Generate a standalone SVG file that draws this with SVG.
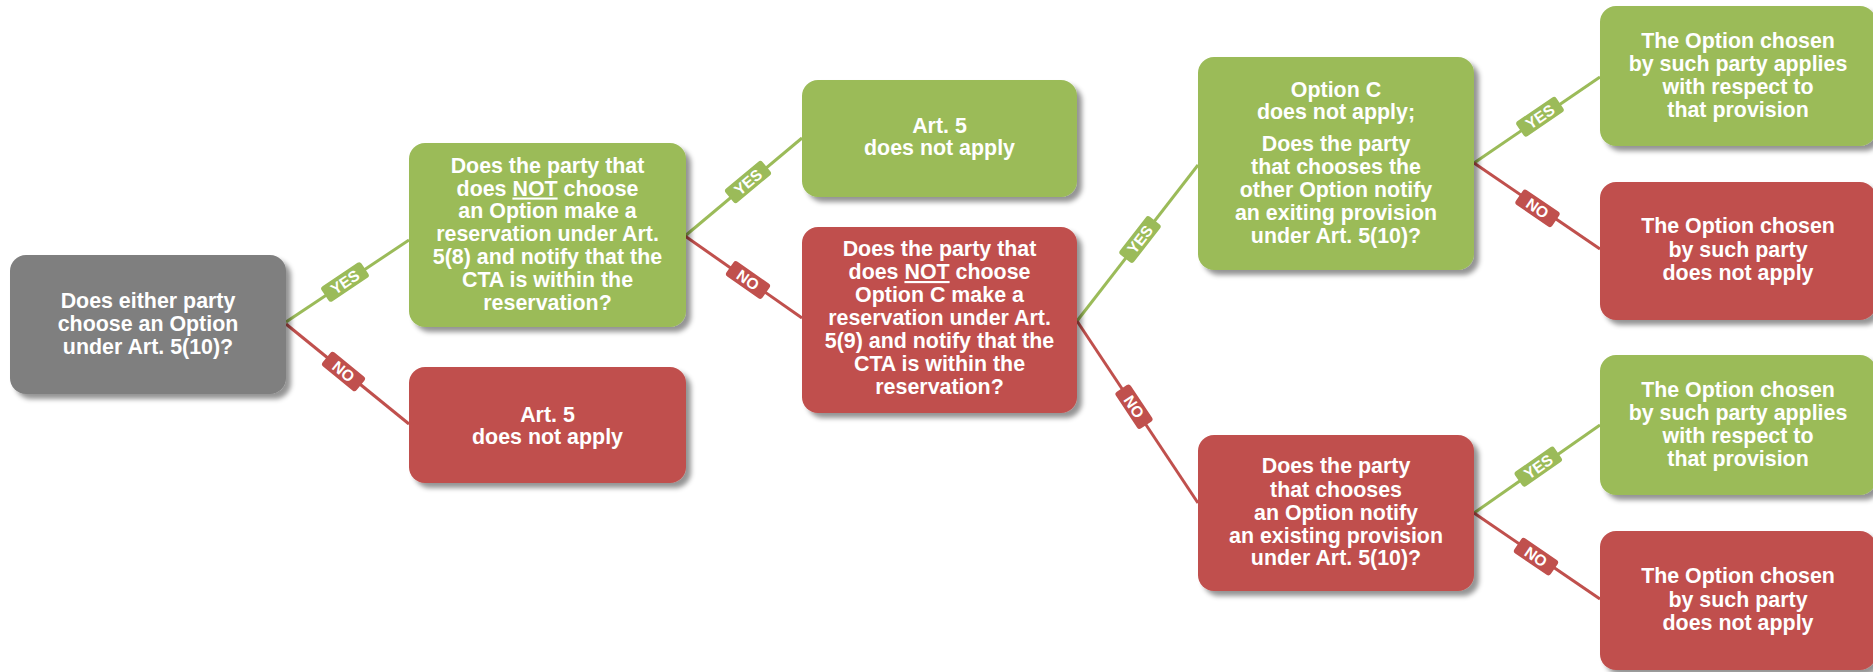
<svg xmlns="http://www.w3.org/2000/svg" width="1873" height="672" viewBox="0 0 1873 672">
  <defs>
    <filter id="shadow" x="-10%" y="-10%" width="125%" height="130%">
      <feDropShadow dx="5" dy="5" stdDeviation="2.5" flood-color="#000" flood-opacity="0.42"/>
    </filter>
  </defs>
  <style>
    .box { filter: url(#shadow); }
    .gray { fill: #7f7f7f; }
    .green { fill: #9bbb59; }
    .red { fill: #c0504d; }
    .t { fill: #ffffff; font-family: "Liberation Sans", Arial, sans-serif; font-weight: bold; font-size: 21.4px; text-anchor: middle; }
    .u { text-decoration: underline; }
    .yes-line { stroke: #9bbb59; stroke-width: 3; fill: none; }
    .no-line { stroke: #c0504d; stroke-width: 3; fill: none; }
    .lbl { fill: #ffffff; font-family: "Liberation Sans", Arial, sans-serif; font-weight: bold; font-size: 15.5px; text-anchor: middle; }
  </style>

  <!-- connectors with their YES / NO tags -->
  <g id="connectors">
    <line class="yes-line" x1="286" y1="322" x2="409" y2="240"/>
    <line class="no-line" x1="286" y1="324" x2="409" y2="424"/>
    <line class="yes-line" x1="685" y1="236" x2="802" y2="138"/>
    <line class="no-line" x1="685" y1="236" x2="802" y2="318"/>
    <line class="yes-line" x1="1077" y1="321" x2="1198" y2="165"/>
    <line class="no-line" x1="1077" y1="321" x2="1198" y2="503"/>
    <line class="yes-line" x1="1474" y1="163" x2="1600" y2="77"/>
    <line class="no-line" x1="1474" y1="163" x2="1600" y2="249"/>
    <line class="yes-line" x1="1474" y1="513" x2="1600" y2="425"/>
    <line class="no-line" x1="1474" y1="513" x2="1600" y2="599"/>

    <g transform="translate(345,282) rotate(-33.7)">
      <rect class="green" x="-24" y="-9" width="48" height="18" rx="3"/>
      <text class="lbl" y="5.5">YES</text>
    </g>
    <g transform="translate(343.5,371.5) rotate(39.4)">
      <rect class="red" x="-22" y="-9" width="44" height="18" rx="3"/>
      <text class="lbl" y="5.5">NO</text>
    </g>
    <g transform="translate(748,182) rotate(-39.9)">
      <rect class="green" x="-24" y="-9" width="48" height="18" rx="3"/>
      <text class="lbl" y="5.5">YES</text>
    </g>
    <g transform="translate(748,280) rotate(35)">
      <rect class="red" x="-22" y="-9" width="44" height="18" rx="3"/>
      <text class="lbl" y="5.5">NO</text>
    </g>
    <g transform="translate(1140,239.5) rotate(-52.2)">
      <rect class="green" x="-24" y="-9" width="48" height="18" rx="3"/>
      <text class="lbl" y="5.5">YES</text>
    </g>
    <g transform="translate(1134,406.7) rotate(56.4)">
      <rect class="red" x="-22" y="-9" width="44" height="18" rx="3"/>
      <text class="lbl" y="5.5">NO</text>
    </g>
    <g transform="translate(1540,116.7) rotate(-34.3)">
      <rect class="green" x="-24" y="-9" width="48" height="18" rx="3"/>
      <text class="lbl" y="5.5">YES</text>
    </g>
    <g transform="translate(1537.5,208.3) rotate(34.3)">
      <rect class="red" x="-22" y="-9" width="44" height="18" rx="3"/>
      <text class="lbl" y="5.5">NO</text>
    </g>
    <g transform="translate(1538.3,466.7) rotate(-34.9)">
      <rect class="green" x="-24" y="-9" width="48" height="18" rx="3"/>
      <text class="lbl" y="5.5">YES</text>
    </g>
    <g transform="translate(1536,556.7) rotate(34.3)">
      <rect class="red" x="-22" y="-9" width="44" height="18" rx="3"/>
      <text class="lbl" y="5.5">NO</text>
    </g>
  </g>

  <!-- start question -->
  <g id="q-either-party">
    <rect class="box gray" x="10" y="255" width="276" height="139" rx="16"/>
    <text class="t"><tspan x="148" y="308">Does either party</tspan><tspan x="148" y="331">choose an Option</tspan><tspan x="148" y="353.5">under Art. 5(10)?</tspan></text>
  </g>

  <g id="q-reservation-58">
    <rect class="box green" x="409" y="143" width="277" height="184" rx="16"/>
    <text class="t"><tspan x="547.5" y="172.7">Does the party that</tspan><tspan x="547.5" y="195.5">does <tspan class="u">NOT</tspan> choose</tspan><tspan x="547.5" y="218.3">an Option make a</tspan><tspan x="547.5" y="241.1">reservation under Art.</tspan><tspan x="547.5" y="263.9">5(8) and notify that the</tspan><tspan x="547.5" y="286.7">CTA is within the</tspan><tspan x="547.5" y="309.5">reservation?</tspan></text>
  </g>

  <g id="r-art5-na-red">
    <rect class="box red" x="409" y="367" width="277" height="116" rx="16"/>
    <text class="t"><tspan x="547.5" y="421.7">Art. 5</tspan><tspan x="547.5" y="443.5">does not apply</tspan></text>
  </g>

  <g id="r-art5-na-green">
    <rect class="box green" x="802" y="80" width="275" height="117" rx="16"/>
    <text class="t"><tspan x="939.5" y="133.3">Art. 5</tspan><tspan x="939.5" y="155.2">does not apply</tspan></text>
  </g>

  <g id="q-reservation-59">
    <rect class="box red" x="802" y="227" width="275" height="186" rx="16"/>
    <text class="t"><tspan x="939.5" y="256">Does the party that</tspan><tspan x="939.5" y="279">does <tspan class="u">NOT</tspan> choose</tspan><tspan x="939.5" y="302">Option C make a</tspan><tspan x="939.5" y="325">reservation under Art.</tspan><tspan x="939.5" y="348">5(9) and notify that the</tspan><tspan x="939.5" y="371">CTA is within the</tspan><tspan x="939.5" y="394">reservation?</tspan></text>
  </g>

  <g id="q-other-option-notify">
    <rect class="box green" x="1198" y="57" width="276" height="213" rx="16"/>
    <text class="t"><tspan x="1336" y="96.7">Option C</tspan><tspan x="1336" y="119.3">does not apply;</tspan><tspan x="1336" y="151">Does the party</tspan><tspan x="1336" y="174">that chooses the</tspan><tspan x="1336" y="196.7">other Option notify</tspan><tspan x="1336" y="220">an exiting provision</tspan><tspan x="1336" y="242.5">under Art. 5(10)?</tspan></text>
  </g>

  <g id="q-option-notify">
    <rect class="box red" x="1198" y="435" width="276" height="156" rx="16"/>
    <text class="t"><tspan x="1336" y="473.3">Does the party</tspan><tspan x="1336" y="496.5">that chooses</tspan><tspan x="1336" y="519.5">an Option notify</tspan><tspan x="1336" y="542.5">an existing provision</tspan><tspan x="1336" y="565.3">under Art. 5(10)?</tspan></text>
  </g>

  <g id="r-applies-1">
    <rect class="box green" x="1600" y="6" width="276" height="140" rx="16"/>
    <text class="t"><tspan x="1738" y="47.7">The Option chosen</tspan><tspan x="1738" y="70.7">by such party applies</tspan><tspan x="1738" y="93.5">with respect to</tspan><tspan x="1738" y="116.5">that provision</tspan></text>
  </g>

  <g id="r-not-apply-1">
    <rect class="box red" x="1600" y="182" width="276" height="138" rx="16"/>
    <text class="t"><tspan x="1738" y="233.3">The Option chosen</tspan><tspan x="1738" y="256.5">by such party</tspan><tspan x="1738" y="279.5">does not apply</tspan></text>
  </g>

  <g id="r-applies-2">
    <rect class="box green" x="1600" y="355" width="276" height="140" rx="16"/>
    <text class="t"><tspan x="1738" y="396.7">The Option chosen</tspan><tspan x="1738" y="419.7">by such party applies</tspan><tspan x="1738" y="442.7">with respect to</tspan><tspan x="1738" y="465.7">that provision</tspan></text>
  </g>

  <g id="r-not-apply-2">
    <rect class="box red" x="1600" y="531" width="276" height="139" rx="16"/>
    <text class="t"><tspan x="1738" y="583.3">The Option chosen</tspan><tspan x="1738" y="606.5">by such party</tspan><tspan x="1738" y="629.5">does not apply</tspan></text>
  </g>
</svg>
